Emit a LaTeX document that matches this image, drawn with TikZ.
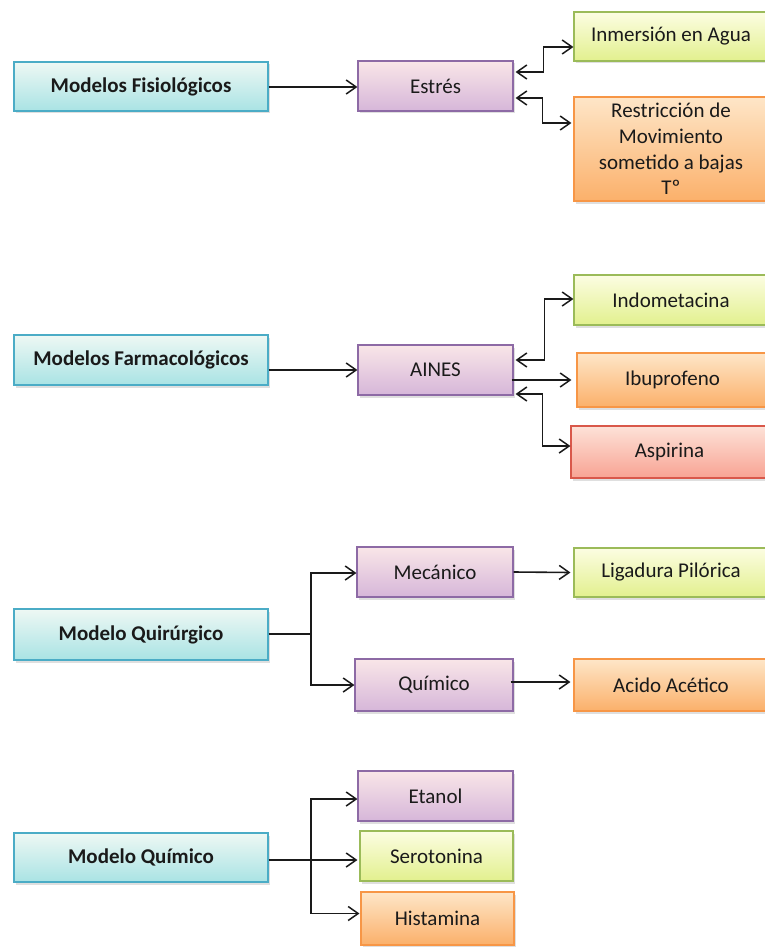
\documentclass[tikz,border=0pt]{standalone}
\usepackage{fontspec}
\setmainfont{Carlito}
\usetikzlibrary{arrows.meta,shadows,calc}
\definecolor{cyD}{HTML}{4BACC6}\definecolor{cyT}{HTML}{EEF8F4}\definecolor{cyB}{HTML}{A9E3E4}
\definecolor{puD}{HTML}{8D6AA5}\definecolor{puT}{HTML}{F9E6E8}\definecolor{puB}{HTML}{D6B6D9}
\definecolor{grD}{HTML}{9BBB59}\definecolor{grT}{HTML}{FCFDE2}\definecolor{grB}{HTML}{E2F08E}
\definecolor{orD}{HTML}{F79646}\definecolor{orT}{HTML}{FEE6C8}\definecolor{orB}{HTML}{FBB06A}
\definecolor{reD}{HTML}{D9584A}\definecolor{reT}{HTML}{FDE2D8}\definecolor{reB}{HTML}{F8A393}
\definecolor{ink}{HTML}{1A1A1A}
\begin{document}
\begin{tikzpicture}[x=1pt,y=-1pt,
  box/.style={draw,line width=1.1pt,inner sep=0pt,align=center,text=ink,
    font=\fontsize{21}{25.7}\selectfont,
    drop shadow={shadow xshift=1.5pt,shadow yshift=-2.5pt,opacity=0.25}},
  cyanbox/.style={box,draw=cyD,top color=cyT,bottom color=cyB,minimum width=254pt,minimum height=49pt,font=\fontsize{21}{25.7}\selectfont\bfseries},
  purplebox/.style={box,draw=puD,top color=puT,bottom color=puB,minimum width=155pt,minimum height=50pt},
  greenbox/.style={box,draw=grD,top color=grT,bottom color=grB,minimum width=194pt,minimum height=50pt},
  orangebox/.style={box,draw=orD,top color=orT,bottom color=orB,minimum width=194pt,minimum height=52pt},
  redbox/.style={box,draw=reD,top color=reT,bottom color=reB,minimum width=197pt,minimum height=52pt},
  conn/.style={draw=ink,line width=1.6pt},
  arr/.style={conn,-{Straight Barb[length=10pt,width=14pt,line width=1.5pt]}},
  dbl/.style={conn,{Straight Barb[length=10pt,width=14pt,line width=1.5pt]}-{Straight Barb[length=10pt,width=14pt,line width=1.5pt]}}
]
\useasboundingbox (0,0) rectangle (764,947);
% left column
\node[cyanbox] (fis) at (141,86.5) {Modelos Fisiológicos};
\node[cyanbox,minimum height=50pt] (far) at (141,360) {Modelos Farmacológicos};
\node[cyanbox,minimum height=51pt] (qui) at (141,634.5) {Modelo Quirúrgico};
\node[cyanbox] (qmc) at (141,857.5) {Modelo Químico};
% middle column
\node[purplebox] (estres) at (435.5,86) {Estrés};
\node[purplebox] (aines) at (435.5,370) {AINES};
\node[purplebox,minimum width=156pt] (mec) at (435,572) {Mecánico};
\node[purplebox,minimum width=158pt,minimum height=52pt] (quim) at (434,685) {Químico};
\node[purplebox] (etanol) at (435.5,796) {Etanol};
\node[greenbox,minimum width=153pt] (sero) at (436.5,856) {Serotonina};
\node[orangebox,minimum width=153pt,minimum height=53pt] (hist) at (437.5,918.5) {Histamina};
% right column
\node[greenbox,minimum height=49pt] (inm) at (671,36.5) {Inmersión en Agua};
\node[orangebox,minimum height=104pt] (restr) at (671,149) {Restricción de\\Movimiento\\sometido a bajas\\Tº};
\node[greenbox] (indo) at (671,300) {Indometacina};
\node[orangebox,minimum width=191pt,minimum height=54pt] (ibu) at (672.5,380) {Ibuprofeno};
\node[redbox] (asp) at (669.5,452) {Aspirina};
\node[greenbox,minimum height=49pt] (liga) at (671,572.5) {Ligadura Pilórica};
\node[orangebox] (acido) at (671,685) {Acido Acético};
% connectors
\draw[arr] ($(fis.east)+(0,0.5)$) -- ($(estres.west)+(0,1)$);
\draw[arr] (far.east |- aines.west) -- (aines.west);
\draw[dbl] ($(estres.east)+(2,-14)$) -- ++(28,0) |- ($(inm.west)+(0,10.5)$);
\draw[dbl] ($(estres.east)+(2,12)$) -- ++(27,0) |- ($(restr.west)+(-2,-26)$);
\draw[dbl] ($(aines.east)+(2,-10)$) -- ++(29,0) |- ($(indo.west)+(0,-1)$);
\draw[arr] ($(aines.east)+(-2,10)$) -- ($(ibu.west)+(-5,0)$);
\draw[dbl] ($(aines.east)+(2,24)$) -- ++(27,0) |- ($(asp.west)+(0,-6)$);
\coordinate (qj) at (311,634);
\draw[conn] ($(qui.east)+(0,-0.5)$) -- (qj);
\draw[arr] ($(qj)+(0,0.8)$) |- ($(mec.west)+(0,1)$);
\draw[arr] ($(qj)+(0,-0.8)$) |- (quim.west);
\draw[arr] (mec.east) -- ($(liga.west)+(-3,0)$);
\draw[arr] ($(quim.east)+(-3,-3)$) -- ($(acido.west)+(-3,-3)$);
\coordinate (qk) at (311,860);
\draw[arr] (qmc.east |- qk) -- ($(sero.west)+(-2,4)$);
\draw[arr] (qk) |- ($(etanol.west)+(0,3)$);
\draw[arr] (qk) |- ($(hist.west)+(-1,-5)$);
\end{tikzpicture}
\end{document}
